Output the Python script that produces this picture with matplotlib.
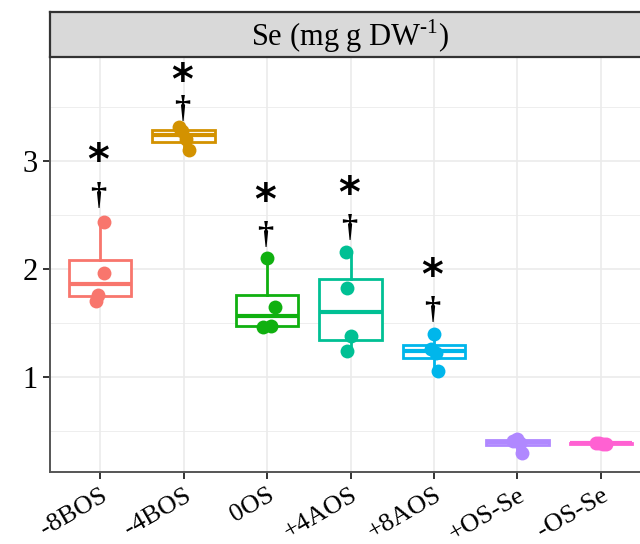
import matplotlib.pyplot as plt
import matplotlib.transforms as mtransforms
import numpy as np

plt.rcParams['font.family'] = ['Liberation Serif', 'DejaVu Serif']
plt.rcParams['mathtext.fontset'] = 'custom'
plt.rcParams['mathtext.rm'] = 'Liberation Serif'

# groups and Se values
groups = ['-8BOS', '-4BOS', '0OS', '+4AOS', '+8AOS', '+OS-Se', '-OS-Se']
colors = ['#F8766D', '#D39200', '#10B010', '#00C094', '#00B6EB', '#B088FF', '#FF61D2']

se_values = [
    [2.43, 1.96, 1.76, 1.70],
    [3.31, 3.27, 3.20, 3.10],
    [2.10, 1.65, 1.47, 1.46],
    [2.16, 1.82, 1.38, 1.24],
    [1.40, 1.26, 1.22, 1.06],
    [0.43, 0.41, 0.39, 0.30],
    [0.39, 0.39, 0.385, 0.38],
]
# small horizontal jitter of the points
jitter = [
    [0.05, 0.05, -0.03, -0.05],
    [-0.05, -0.02, 0.03, 0.06],
    [0.0, 0.10, 0.05, -0.05],
    [-0.05, -0.04, 0.0, -0.04],
    [0.0, -0.03, 0.03, 0.05],
    [0.0, -0.05, 0.03, 0.05],
    [-0.06, -0.02, 0.02, 0.06],
]

# significance marks: y of '*' and of the dagger
star_y = [3.07, 3.81, 2.70, 2.76, 2.00]
dagger_y = [2.72, 3.53, 2.36, 2.43, 1.67]

fig = plt.figure(figsize=(6.4, 5.44), dpi=100)
ax = fig.add_axes([50/640, 72.3/544, 601/640, 413.7/544])
strip = fig.add_axes([50/640, 486.7/544, 601/640, 45.6/544])

pos = np.arange(1, len(groups) + 1)

# grid
for y in [1, 2, 3]:
    ax.axhline(y, color='#EBEBEB', lw=1.2, zorder=0)
for y in [0.5, 1.5, 2.5, 3.5]:
    ax.axhline(y, color='#EBEBEB', lw=0.6, zorder=0)
for x in pos:
    ax.axvline(x, color='#EBEBEB', lw=1.2, zorder=0)

for i, (vals, c) in enumerate(zip(se_values, colors)):
    ax.boxplot([vals], positions=[pos[i]], widths=0.75, showfliers=False,
               showcaps=False, patch_artist=True, whis=1.5,
               boxprops=dict(facecolor='white', edgecolor=c, lw=2.0),
               medianprops=dict(color=c, lw=3.0),
               whiskerprops=dict(color=c, lw=2.0), zorder=2)
    ax.plot(pos[i] + np.array(jitter[i]), vals, 'o', color=c, ms=10,
            mec='none', zorder=3)

for i in range(len(star_y)):
    ax.annotate('*', (pos[i] - 0.02, star_y[i]), xytext=(0, -4),
                textcoords='offset pixels', fontsize=30, fontweight='bold',
                ha='center', va='center_baseline', family='DejaVu Sans')
    ax.annotate('\u2020', (pos[i] - 0.02, dagger_y[i]), xytext=(0, -6),
                textcoords='offset pixels', fontsize=23,
                ha='center', va='center', fontweight='bold')

ax.set_xlim(0.4, 7.6)
ax.set_ylim(0.125, 3.949)
ax.set_xticks(pos)
ax.set_xticklabels(groups, rotation=30, ha='right', rotation_mode='anchor', fontsize=19)
shift = mtransforms.ScaledTranslation(-4/100, 4/100, fig.dpi_scale_trans)
for lab in ax.get_xticklabels():
    lab.set_transform(lab.get_transform() + shift)
ax.set_yticks([1, 2, 3])
ax.set_yticklabels(['1', '2', '3'], fontsize=22)
ax.tick_params(axis='both', length=5, width=1.4, color='#333333', pad=4)
for s in ['top', 'right']:
    ax.spines[s].set_visible(False)
for s in ['left', 'bottom']:
    ax.spines[s].set_color('#555555')
    ax.spines[s].set_linewidth(1.4)

strip.set_facecolor('#D9D9D9')
strip.set_xticks([])
strip.set_yticks([])
for s in strip.spines.values():
    s.set_color('#333333')
    s.set_linewidth(1.6)
strip.text(0.5, 0.47, 'Se (mg g DW$^{\\mathregular{\\text{-}1}}$)', fontsize=22,
           ha='center', va='center', transform=strip.transAxes)

fig.savefig('out.png', dpi=100)
